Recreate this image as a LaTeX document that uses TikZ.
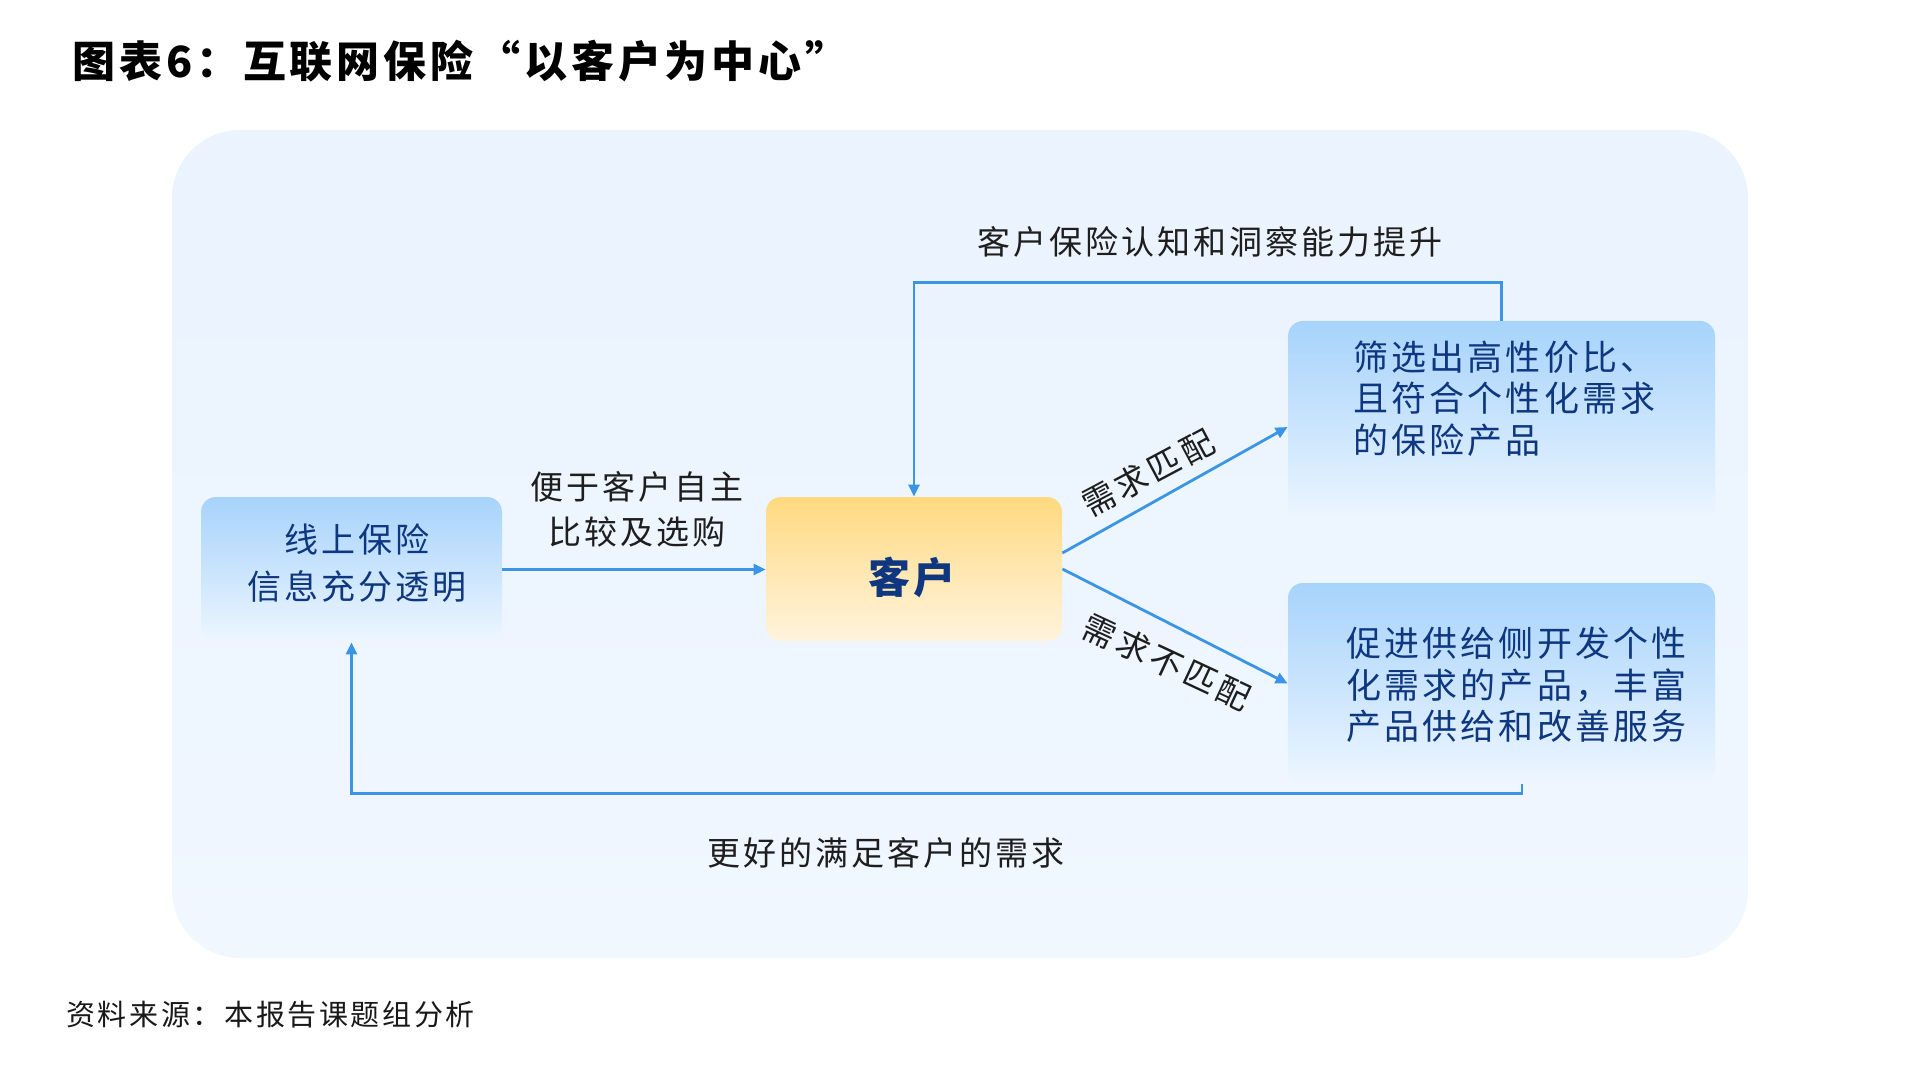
\documentclass[tikz,border=0pt]{standalone}
\usepackage{fontspec}
\setmainfont{Noto Sans CJK SC}[LetterSpace=9]
\usetikzlibrary{arrows.meta,calc}
\definecolor{arrowblue}{HTML}{3B95E6}
\definecolor{navy}{HTML}{0E3780}
\definecolor{labelc}{HTML}{1E1E1E}
\definecolor{bgtop}{HTML}{EAF3FE}
\definecolor{bgbot}{HTML}{F0F7FF}
\definecolor{btop}{HTML}{A7D3FB}
\definecolor{bmid}{HTML}{C9E4FD}
\definecolor{bbot}{HTML}{EEF6FF}
\definecolor{ytop}{HTML}{FFD97F}
\definecolor{ymid}{HTML}{FFE7B0}
\definecolor{ybot}{HTML}{FFF3DC}
\tikzset{
  bluebox/.style={rounded corners=7.5pt, draw=none, inner sep=0pt,
    top color=btop, bottom color=bbot, middle color=bmid},
  yellowbox/.style={rounded corners=7.5pt, draw=none, inner sep=0pt,
    top color=ytop, bottom color=ybot, middle color=ymid},
  arr/.style={draw=arrowblue, line width=1.4pt, -{Triangle[length=6pt,width=5.5pt]}},
  lab/.style={inner sep=0pt, text=labelc, font=\fontsize{16.5pt}{22.5pt}\selectfont},
  rotlab/.style={inner sep=0pt, text=labelc, font=\fontsize{16.5pt}{22.5pt}\selectfont\addfontfeature{LetterSpace=12}},
  boxtxt/.style={inner sep=0pt, text=navy, font=\fontsize{17.5pt}{20.75pt}\selectfont},
  lefttxt/.style={inner sep=0pt, text=navy, font=\fontsize{17pt}{23.5pt}\selectfont},
  kehutxt/.style={inner sep=0pt, text=navy, font=\fontsize{21pt}{25pt}\selectfont\bfseries},
  titletxt/.style={inner sep=0pt, text=black, font=\fontsize{21.5pt}{26pt}\selectfont\bfseries},
  srctxt/.style={inner sep=0pt, text=black!90, font=\fontsize{14.5pt}{18pt}\selectfont},
}
\begin{document}
\begin{tikzpicture}[x=0.5pt,y=-0.5pt]
\useasboundingbox (0,0) rectangle (1920,1080);
\fill[white] (0,0) rectangle (1920,1080);
% background panel
\shade[rounded corners=34pt, top color=bgtop, bottom color=bgbot] (172,130) rectangle (1748,958);

% boxes
\node[bluebox, minimum width=150.5pt, minimum height=72.5pt] (L) at (351.5,569.5) {};
\node[yellowbox, minimum width=148pt, minimum height=72pt] (K) at (914,569) {};
\node[bluebox, minimum width=213.5pt, minimum height=100.5pt] (U) at (1501.5,421.5) {};
\node[bluebox, minimum width=213.5pt, minimum height=100.5pt] (D) at (1501.5,683.5) {};

% box texts
\node[lefttxt, align=center] (tL) at (357,563.5) {线上保险\\信息充分透明};
\node[kehutxt] (tK) at (912,577) {客户};
\node[boxtxt, anchor=west, align=left] (tU) at (1353,398.5) {筛选出高性价比、\\且符合个性化需求\\的保险产品};
\node[boxtxt, anchor=west, align=left] (tD) at (1346,685) {促进供给侧开发个性\\化需求的产品，丰富\\产品供给和改善服务};

% connectors
\draw[arr] (L.east) -- (L.east -| K.west);
\draw[arr] ($(K.east)+(0,-16)$) -- ($(U.west)+(0,5.5)$);
\draw[arr] (K.east) -- (D.west);
\draw[arr] (U.north) -- ($(U.north)+(0,-38)$) -| (K.north);
\draw[arr] ($(D.south)+(20.5,0)$) -- ($(D.south)+(20.5,9)$) -| (L.south);

% labels
\node[lab] (tTop) at (1210,242) {客户保险认知和洞察能力提升};
\node[lab, align=center] (tLeft) at (637,509.5) {便于客户自主\\比较及选购};
\node[lab] (tBot) at (886,853) {更好的满足客户的需求};
\node[rotlab, rotate=28] (tMatch) at (1148,473) {需求匹配};
\node[rotlab, rotate=-25] (tMis) at (1167,662) {需求不匹配};

% title and source
\node[titletxt, anchor=west] (title) at (72,61) {图表6：互联网保险“以客户为中心”};
\node[srctxt, anchor=west] (src) at (66,1015) {资料来源：本报告课题组分析};
\end{tikzpicture}
\end{document}
